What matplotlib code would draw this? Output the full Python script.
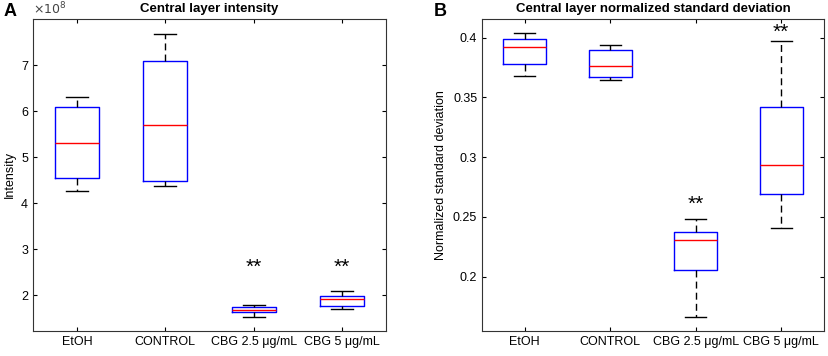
import numpy as np
import matplotlib.pyplot as plt

plt.rcParams['font.family'] = ['Liberation Sans', 'DejaVu Sans']

groups = ['EtOH', 'CONTROL', 'CBG 2.5 μg/mL', 'CBG 5 μg/mL']

# panel A, intensity (x1e8)
int_whislo = [4.27, 4.38, 1.52, 1.70]
int_q1 = [4.55, 4.47, 1.63, 1.76]
int_med = [5.30, 5.70, 1.67, 1.91]
int_q3 = [6.09, 7.09, 1.74, 1.99]
int_whishi = [6.30, 7.68, 1.78, 2.09]
int_stars = [None, None, 2.65, 2.65]

# panel B, normalized standard deviation
sd_whislo = [0.368, 0.3642, 0.166, 0.2403]
sd_q1 = [0.3783, 0.3673, 0.2058, 0.2688]
sd_med = [0.392, 0.376, 0.2308, 0.2931]
sd_q3 = [0.3985, 0.390, 0.2370, 0.3422]
sd_whishi = [0.4037, 0.394, 0.2478, 0.3975]
sd_stars = [None, None, 0.2625, 0.406]


def make_stats(lo, q1, med, q3, hi):
    return [dict(whislo=a, q1=b, med=c, q3=d, whishi=e, fliers=[])
            for a, b, c, d, e in zip(lo, q1, med, q3, hi)]


def draw(ax, stats, stars, title, ylabel):
    ax.bxp(stats, positions=range(1, 5), widths=0.5, showfliers=False,
           boxprops=dict(color='blue', linewidth=1),
           medianprops=dict(color='red', linewidth=1),
           whiskerprops=dict(color='black', linestyle=(0, (5, 3)), linewidth=1),
           capprops=dict(color='black', linewidth=1),
           capwidths=0.25)
    for i, s in enumerate(stars):
        if s is not None:
            ax.annotate('**', (i + 1, s), xytext=(0, -1.5), textcoords='offset points',
                        ha='center', va='center', fontsize=15)
    ax.set_xlim(0.5, 4.5)
    ax.set_xticks(range(1, 5))
    ax.set_xticklabels(groups, fontsize=9)
    ax.tick_params(direction='in', top=True, right=True, labelsize=9, length=3)
    ax.set_title(title, fontsize=9.5, fontweight='bold', pad=5)
    ax.set_ylabel(ylabel, fontsize=9)
    for sp in ax.spines.values():
        sp.set_color('#333333')
        sp.set_linewidth(0.8)


fig = plt.figure(figsize=(8.29, 3.56), dpi=100)
ax1 = fig.add_axes([33 / 829, 1 - 331 / 356, 353 / 829, 312 / 356])
ax2 = fig.add_axes([482 / 829, 1 - 331 / 356, 342 / 829, 312 / 356])

draw(ax1, make_stats(int_whislo, int_q1, int_med, int_q3, int_whishi), int_stars,
     'Central layer intensity', 'Intensity')
ax1.set_ylim(1.22, 8.0)
ax1.set_yticks([2, 3, 4, 5, 6, 7])
ax1.text(0, 1.005, r'$\times10^8$', transform=ax1.transAxes, fontsize=9,
         color='#444444', va='bottom', ha='left')

draw(ax2, make_stats(sd_whislo, sd_q1, sd_med, sd_q3, sd_whishi), sd_stars,
     'Central layer normalized standard deviation', 'Normalized standard deviation')
ax2.set_ylim(0.1544, 0.4156)
ax2.set_yticks([0.2, 0.25, 0.3, 0.35, 0.4])
ax2.set_yticklabels(['0.2', '0.25', '0.3', '0.35', '0.4'])

fig.text(10 / 829, 1 - 12 / 356, 'A', fontsize=13, fontweight='bold', va='center', ha='center')
fig.text(440 / 829, 1 - 12 / 356, 'B', fontsize=13, fontweight='bold', va='center', ha='center')

fig.savefig('out.png', dpi=100)
